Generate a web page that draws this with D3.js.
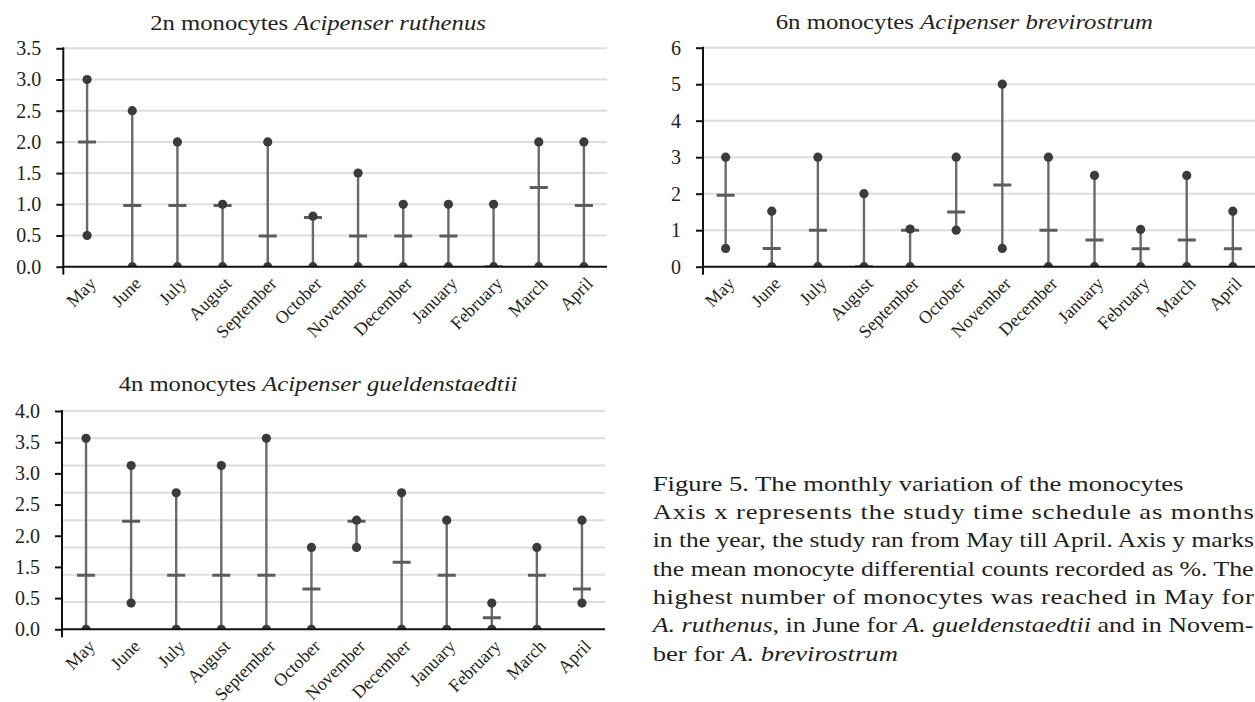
<!DOCTYPE html>
<html>
<head>
<meta charset="utf-8">
<script src="https://cdn.jsdelivr.net/npm/d3@7"></script>
<style>
  html, body { margin: 0; padding: 0; background: #ffffff; }
  svg { display: block; }
  text { font-family: "Liberation Serif", "Times New Roman", serif; fill: #231f20; }
</style>
</head>
<body>
<script>
// ---------------- DATA ----------------
const months = ["May","June","July","August","September","October","November","December","January","February","March","April"];

// 2n Acipenser ruthenus
const ruthenusMin  = [0.5, 0, 0, 0, 0, 0, 0, 0, 0, 0, 0, 0];
const ruthenusMean = [2.0, 0.98, 0.98, 0.98, 0.49, 0.79, 0.49, 0.49, 0.49, 0, 1.27, 0.98];
const ruthenusMax  = [3.0, 2.5, 2.0, 1.0, 2.0, 0.81, 1.5, 1.0, 1.0, 1.0, 2.0, 2.0];
const ruthenusTicks = [0, 0.5, 1.0, 1.5, 2.0, 2.5, 3.0, 3.5];

// 6n Acipenser brevirostrum
const brevirostrumMin  = [0.5, 0, 0, 0, 0, 1.0, 0.5, 0, 0, 0, 0, 0];
const brevirostrumMean = [1.96, 0.5, 1.0, 0, 1.0, 1.5, 2.24, 1.0, 0.73, 0.49, 0.73, 0.49];
const brevirostrumMax  = [3.0, 1.52, 3.0, 2.0, 1.03, 3.0, 5.0, 3.0, 2.5, 1.02, 2.5, 1.52];
const brevirostrumTicks = [0, 1, 2, 3, 4, 5, 6];

// 4n Acipenser gueldenstaedtii
const gueldenstaedtiiMin  = [0, 0.48, 0, 0, 0, 0, 1.5, 0, 0, 0, 0, 0.48];
const gueldenstaedtiiMean = [0.99, 1.98, 0.99, 0.99, 0.99, 0.74, 1.98, 1.23, 0.99, 0.21, 0.99, 0.74];
const gueldenstaedtiiMax  = [3.5, 3.0, 2.5, 3.0, 3.5, 1.5, 2.0, 2.5, 2.0, 0.48, 1.5, 2.0];
const gueldenstaedtiiGrid = [0, 0.5, 1.0, 1.5, 2.0, 2.5, 3.0, 3.5, 4.0];
const gueldenstaedtiiTickLabels = ["4.0","3.5","3.0","2.5","2.0","1.5","0.5","0.0"];

// ---------------- LAYOUT ----------------
const W = 1255, H = 702;
const svg = d3.select("body").append("svg").attr("width", W).attr("height", H);

const panels = [
  { id: "ruth", title: [["2n monocytes ", false], ["Acipenser ruthenus", true]],
    titleX: 318, titleY: 30, titleW: 336,
    axisX: 63.3, band: [64.5, 606.5], right: 607, yTop: 48.3, y0: 266.7, ymax: 3.5,
    min: ruthenusMin, mean: ruthenusMean, max: ruthenusMax,
    grid: ruthenusTicks, labelsKind: "linear", ticks: ruthenusTicks, fmt: d3.format(".1f") },
  { id: "brev", title: [["6n monocytes ", false], ["Acipenser brevirostrum", true]],
    titleX: 964.3, titleY: 29, titleW: 377.5,
    axisX: 703, band: [702.6, 1255.9], right: 1255, yTop: 47.7, y0: 266.7, ymax: 6,
    min: brevirostrumMin, mean: brevirostrumMean, max: brevirostrumMax,
    grid: brevirostrumTicks, labelsKind: "linear", ticks: brevirostrumTicks, fmt: d3.format("d") },
  { id: "guel", title: [["4n monocytes ", false], ["Acipenser gueldenstaedtii", true]],
    titleX: 318, titleY: 391, titleW: 399,
    axisX: 62, band: [63.5, 604.5], right: 605, yTop: 411, y0: 629.3, ymax: 4,
    min: gueldenstaedtiiMin, mean: gueldenstaedtiiMean, max: gueldenstaedtiiMax,
    grid: gueldenstaedtiiGrid, labelsKind: "point", ticks: gueldenstaedtiiTickLabels }
];

function fitText(g, segments, size, anchor) {
  const t = g.append("text").attr("font-size", size).attr("text-anchor", anchor);
  segments.forEach(([s, it]) => {
    t.append("tspan").attr("font-style", it ? "italic" : "normal").text(s);
  });
  const w = t.node().getComputedTextLength();
  return { t, w };
}

panels.forEach(p => {
  const g = svg.append("g");
  const x = d3.scaleBand().domain(months).range(p.band);
  const y = d3.scaleLinear().domain([0, p.ymax]).range([p.y0, p.yTop]);

  // title
  const tg = g.append("g");
  const { w } = fitText(tg, p.title, 22, "middle");
  tg.attr("transform", `translate(${p.titleX},${p.titleY}) scale(${p.titleW / w},1)`);

  // gridlines
  g.append("g").selectAll("line").data(p.grid.filter(v => v > 0)).join("line")
    .attr("x1", p.axisX).attr("x2", p.right)
    .attr("y1", d => y(d)).attr("y2", d => y(d))
    .attr("stroke", "#dedede").attr("stroke-width", 2);

  // clip to plot area (dots at zero shown as half dots)
  svg.append("clipPath").attr("id", "clip-" + p.id).append("rect")
    .attr("x", p.axisX).attr("y", p.yTop - 10)
    .attr("width", p.right - p.axisX).attr("height", p.y0 - p.yTop + 10);

  const marks = g.append("g").attr("clip-path", `url(#clip-${p.id})`);
  const rows = months.map((m, i) => ({ m, lo: p.min[i], mu: p.mean[i], hi: p.max[i] }));
  const cx = d => x(d.m) + x.bandwidth() / 2;

  marks.selectAll(".wh").data(rows).join("line").attr("class", "wh")
    .attr("x1", cx).attr("x2", cx)
    .attr("y1", d => y(d.lo)).attr("y2", d => y(d.hi))
    .attr("stroke", "#6a6a6a").attr("stroke-width", 2.4);

  marks.selectAll(".mu").data(rows).join("line").attr("class", "mu")
    .attr("x1", d => cx(d) - 9).attr("x2", d => cx(d) + 9)
    .attr("y1", d => y(d.mu)).attr("y2", d => y(d.mu))
    .attr("stroke", "#5c5c5c").attr("stroke-width", 3);

  const pts = rows.flatMap(d => [{ m: d.m, v: d.lo }, { m: d.m, v: d.hi }]);
  marks.selectAll(".pt").data(pts).join("circle").attr("class", "pt")
    .attr("cx", cx).attr("cy", d => y(d.v)).attr("r", 4.6)
    .attr("fill", "#3b3b3b");

  // x axis line
  g.append("line").attr("x1", p.axisX).attr("x2", p.right)
    .attr("y1", p.y0).attr("y2", p.y0)
    .attr("stroke", "#111").attr("stroke-width", 2);

  // y axis
  let axis;
  if (p.labelsKind === "linear") {
    axis = d3.axisLeft(y).tickValues(p.ticks).tickFormat(p.fmt);
  } else {
    const ly = d3.scalePoint().domain(p.ticks).range([p.yTop, p.y0]);
    axis = d3.axisLeft(ly);
  }
  axis.tickSize(7).tickPadding(15).tickSizeOuter(0);
  const ag = g.append("g").attr("transform", `translate(${p.axisX},0)`).call(axis);
  ag.select(".domain").remove();
  ag.selectAll(".tick line").attr("stroke", "#111").attr("stroke-width", 2);
  ag.selectAll(".tick text").attr("font-size", 20)
    .attr("font-family", '"Liberation Serif", serif').attr("fill", "#231f20");
  g.append("line").attr("x1", p.axisX).attr("x2", p.axisX)
    .attr("y1", p.yTop - 1).attr("y2", p.y0 + 8)
    .attr("stroke", "#111").attr("stroke-width", 2);

  // month labels
  g.append("g").selectAll("text").data(months).join("text")
    .attr("transform", d => `translate(${x(d) + x.bandwidth() / 2 + 10},${p.y0 + 18}) rotate(-45)`)
    .attr("text-anchor", "end").attr("font-size", 18)
    .text(d => d);
});

// ---------------- CAPTION ----------------
const captionLines = [
  { seg: [["Figure 5. The monthly variation of the monocytes", false]], justify: false },
  { seg: [["Axis x represents the study time schedule as months", false]], justify: true },
  { seg: [["in the year, the study ran from May till April. Axis y marks", false]], justify: true },
  { seg: [["the mean monocyte differential counts recorded as %. The", false]], justify: true },
  { seg: [["highest number of monocytes was reached in May for", false]], justify: true },
  { seg: [["A. ruthenus", true], [", in June for ", false], ["A. gueldenstaedtii", true], [" and in Novem-", false]], justify: true },
  { seg: [["ber for ", false], ["A. brevirostrum", true]], justify: false }
];
const capX = 652.7, capY0 = 490.7, capStep = 28.35, capRight = 1254, capFirstW = 531, capSize = 21;

let sx = 1;
captionLines.forEach((ln, i) => {
  const g = svg.append("g");
  const { t, w } = fitText(g, ln.seg, capSize, "start");
  if (i === 0) sx = capFirstW / w;
  let s = sx;
  const target = (capRight - capX);
  if (ln.justify) {
    if (w * s > target) {
      s = target / w;
    } else {
      const n = ln.seg.map(d => d[0]).join("").length;
      const extra = (target / s - w) / (n - 1);
      t.style("letter-spacing", extra + "px");
    }
  }
  g.attr("transform", `translate(${capX},${capY0 + i * capStep}) scale(${s},1)`);
});
</script>
</body>
</html>
